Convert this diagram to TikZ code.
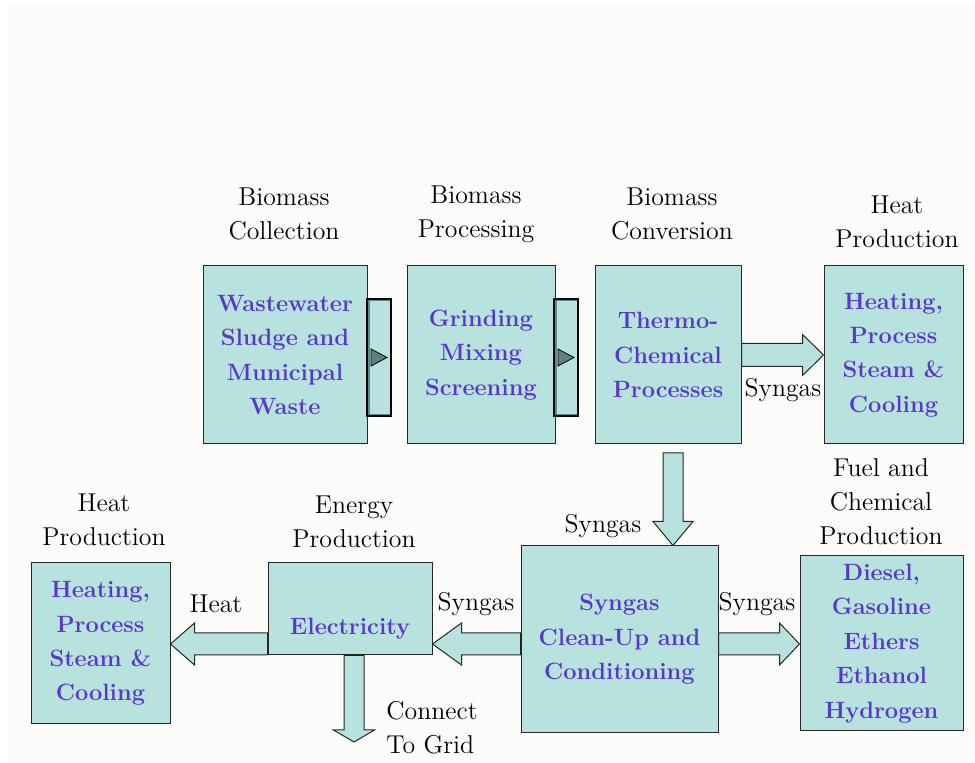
\documentclass[tikz,border=0pt]{standalone}
\usepackage{fontspec}
\usetikzlibrary{calc}
\definecolor{teal1}{RGB}{184,226,221}
\definecolor{bevel}{RGB}{95,140,136}
\definecolor{tri}{RGB}{95,130,127}
\definecolor{bluetxt}{RGB}{88,56,204}
\definecolor{bgc}{RGB}{252,252,250}
\tikzset{
  lbl/.style={align=center,inner sep=0pt,font=\fontsize{12.9}{17}\selectfont},
  box/.style={draw=black!85,line width=0.5pt,fill=teal1,inner sep=0pt,align=center,
    text=bluetxt,font=\fontsize{11.8}{17.2}\selectfont\bfseries},
  btxt/.style={inner sep=0pt,align=center,text=bluetxt,font=\fontsize{11.8}{17.2}\selectfont\bfseries},
  barrow/.style={draw=black!85,line width=0.5pt,fill=teal1},
  conn/.style={draw=black,line width=0.6pt,fill=bevel,minimum width=12pt,minimum height=58.5pt,inner sep=0pt},
  conninner/.style={fill=teal1,minimum width=10pt,minimum height=56.5pt,inner sep=0pt},
  tristyle/.style={draw=black,line width=0.4pt,fill=tri}
}
\begin{document}
\begin{tikzpicture}[x=0.5pt,y=-0.5pt]
\useasboundingbox (0,0) rectangle (975,763);
\fill[white] (0,0) rectangle (975,763);
\fill[bgc] (8,3) rectangle (975,763);

% boxes
\node[box,minimum width=82pt,minimum height=89pt] (b1) at (285,355)
  {Wastewater\\Sludge and\\Municipal\\Waste};
\node[box,minimum width=74pt,minimum height=89pt] (b2) at (481,355)
  {Grinding\\Mixing\\Screening};
\node[box,minimum width=73pt,minimum height=89pt] (b3) at (668,355)
  {Thermo-\\Chemical\\Processes};
\node[box,minimum width=69.5pt,minimum height=89pt] (b4) at (893.5,355)
  {Heating,\\Process\\Steam \&\\Cooling};
\node[box,minimum width=98.5pt,minimum height=93.5pt] (b5) at (619.5,639.5)
  {Syngas\\Clean-Up and\\Conditioning};
\node[box,minimum width=81.5pt,minimum height=87.5pt] (b6) at (881.5,643.5)
  {Diesel,\\Gasoline\\Ethers\\Ethanol\\Hydrogen};
\node[box,minimum width=82pt,minimum height=46pt] (b7) at (350,609) {};
\node[btxt] (t7) at (350,629) {Electricity};
\node[box,minimum width=69.5pt,minimum height=80.5pt] (b8) at (100.5,643.5)
  {Heating,\\Process\\Steam \&\\Cooling};

% small connectors
\node[conn] (c12) at (379,357.5) {};
\node[conninner] (c12i) at (380,357.5) {};
\draw[tristyle] ($(c12)+(-8,-8.5)$) -- ($(c12)+(-8,8.5)$) -- ($(c12)+(8,0)$) -- cycle;
\node[conn] (c23) at (566,357.5) {};
\node[conninner] (c23i) at (567,357.5) {};
\draw[tristyle] ($(c23)+(-8,-8.5)$) -- ($(c23)+(-8,8.5)$) -- ($(c23)+(8,0)$) -- cycle;

% labels
\node[lbl] (l1) at (284,214) {Biomass\\Collection};
\node[lbl] (l2) at (476,214) {Biomass\\Processing};
\node[lbl] (l3) at (672,214) {Biomass\\Conversion};
\node[lbl] (l4) at (897,222) {Heat\\Production};
\node[lbl] (l5) at (104,520) {Heat\\Production};
\node[lbl] (l6) at (354,522) {Energy\\Production};
\node[lbl] (l7) at (881,502) {Fuel and\\Chemical\\Production};

% block arrows
% 3 -> 4
\draw[barrow] ($(b3.east)+(0,-11.5)$) -- ($(b4.west)+(-21,-11.5)$) -- ($(b4.west)+(-21,-20.5)$)
  -- (b4.west) -- ($(b4.west)+(-21,20.5)$) -- ($(b4.west)+(-21,11.5)$) -- ($(b3.east)+(0,11.5)$) -- cycle;
\node[lbl] (s1) at (783,390) {Syngas};

% 3 -> 5 (down)
\coordinate (d1) at (673,453);
\coordinate (d1t) at (b5.north -| d1);
\draw[barrow] ($(d1)+(-10,0)$) -- ($(d1t)+(-10,-24)$) -- ($(d1t)+(-20,-24)$) -- (d1t)
  -- ($(d1t)+(20,-24)$) -- ($(d1t)+(10,-24)$) -- ($(d1)+(10,0)$) -- cycle;
\node[lbl] (s2) at (603,526) {Syngas};

% horizontal level
\coordinate (h) at (0,644);
\coordinate (b5w) at (b5.west |- h);
\coordinate (b5e) at (b5.east |- h);
\coordinate (b7e) at (b7.east |- h);
\coordinate (b7w) at (b7.west |- h);
\coordinate (b6w) at (b6.west |- h);
\coordinate (b8e) at (b8.east |- h);

% 5 -> 7 (left)
\draw[barrow] ($(b5w)+(0,-11)$) -- ($(b7e)+(29,-11)$) -- ($(b7e)+(29,-21)$) -- (b7e)
  -- ($(b7e)+(29,21)$) -- ($(b7e)+(29,11)$) -- ($(b5w)+(0,11)$) -- cycle;
\node[lbl] (s3) at (476,604) {Syngas};

% 5 -> 6 (right)
\draw[barrow] ($(b5e)+(0,-11)$) -- ($(b6w)+(-20,-11)$) -- ($(b6w)+(-20,-21)$) -- (b6w)
  -- ($(b6w)+(-20,21)$) -- ($(b6w)+(-20,11)$) -- ($(b5e)+(0,11)$) -- cycle;
\node[lbl] (s4) at (757,604) {Syngas};

% 7 -> 8 (left)
\draw[barrow] ($(b7w)+(0,-11)$) -- ($(b8e)+(24,-11)$) -- ($(b8e)+(24,-21)$) -- (b8e)
  -- ($(b8e)+(24,21)$) -- ($(b8e)+(24,11)$) -- ($(b7w)+(0,11)$) -- cycle;
\node[lbl] (s5) at (216,604) {Heat};

% 7 -> grid (down)
\coordinate (g) at (354,742);
\coordinate (gs) at (b7.south -| g);
\draw[barrow] ($(gs)+(-10,0)$) -- ($(g)+(-10,-12)$) -- ($(g)+(-20.5,-12)$) -- (g)
  -- ($(g)+(20.5,-12)$) -- ($(g)+(10,-12)$) -- ($(gs)+(10,0)$) -- cycle;
\node[lbl,align=left] (s6) at (432,728) {Connect\\To Grid};
\end{tikzpicture}
\end{document}
